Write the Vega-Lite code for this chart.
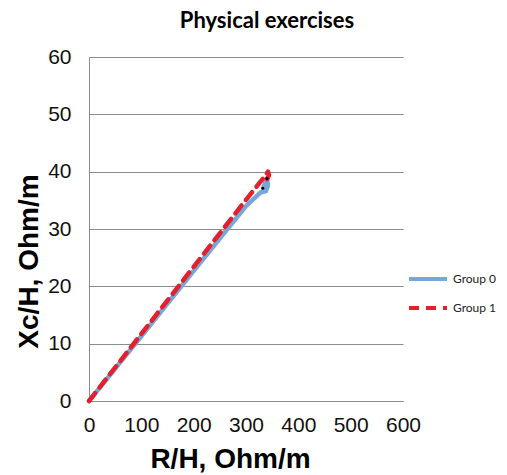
{
  "$schema": "https://vega.github.io/schema/vega-lite/v6.json",
  "autosize": "none",
  "padding": {"left": 89, "top": 57, "right": 104, "bottom": 74},
  "width": 314,
  "height": 344,
  "background": "white",
  "title": {"text": "Physical exercises", "font": "Lato", "fontSize": 22, "fontWeight": "bold", "color": "#000000", "dx": 21, "offset": 13},
  "config": {"view": {"stroke": null}},
  "datasets": {
    "lines": [
      {"group": "Group 0", "order": 1, "R": 0, "Xc": 0},
      {"group": "Group 0", "order": 2, "R": 100, "Xc": 11.3},
      {"group": "Group 0", "order": 3, "R": 200, "Xc": 22.7},
      {"group": "Group 0", "order": 4, "R": 300, "Xc": 34.0},
      {"group": "Group 0", "order": 5, "R": 328, "Xc": 36.4},
      {"group": "Group 0", "order": 6, "R": 338, "Xc": 36.6},
      {"group": "Group 0", "order": 7, "R": 342, "Xc": 37.6},
      {"group": "Group 0", "order": 8, "R": 340, "Xc": 38.8},
      {"group": "Group 0", "order": 9, "R": 333, "Xc": 37.2},
      {"group": "Group 1", "order": 1, "R": 0, "Xc": 0},
      {"group": "Group 1", "order": 2, "R": 100, "Xc": 11.7},
      {"group": "Group 1", "order": 3, "R": 200, "Xc": 23.4},
      {"group": "Group 1", "order": 4, "R": 300, "Xc": 35.1},
      {"group": "Group 1", "order": 5, "R": 336, "Xc": 39.2},
      {"group": "Group 1", "order": 6, "R": 342, "Xc": 40.0},
      {"group": "Group 1", "order": 7, "R": 344, "Xc": 39.4},
      {"group": "Group 1", "order": 8, "R": 340, "Xc": 38.6}
    ],
    "dots": [
      {"R": 340, "Xc": 38.8},
      {"R": 332, "Xc": 37.1}
    ]
  },
  "layer": [
    {
      "data": {"name": "lines"},
      "mark": {"type": "line", "strokeWidth": 4.5, "strokeCap": "round", "strokeJoin": "round"},
      "encoding": {
        "x": {
          "field": "R", "type": "quantitative",
          "scale": {"domain": [0, 600], "nice": false},
          "axis": {
            "values": [0, 100, 200, 300, 400, 500, 600],
            "title": "R/H, Ohm/m", "titleFont": "Liberation Sans", "titleFontSize": 28, "titleFontWeight": "bold", "titleColor": "#000000",
            "titleX": 141, "titleY": 44,
            "labelFont": "Liberation Sans", "labelFontSize": 21, "labelColor": "#111111", "labelPadding": 13,
            "labelOverlap": false, "labelFlush": false,
            "ticks": false, "grid": false, "domainColor": "#8c8c8c", "domainWidth": 1
          }
        },
        "y": {
          "field": "Xc", "type": "quantitative",
          "scale": {"domain": [0, 60], "nice": false},
          "axis": {
            "values": [0, 10, 20, 30, 40, 50, 60],
            "title": "Xc/H, Ohm/m", "titleFont": "Liberation Sans", "titleFontSize": 28, "titleFontWeight": "bold", "titleColor": "#000000",
            "titleX": -46, "titleY": 204,
            "labelFont": "Liberation Sans", "labelFontSize": 21, "labelColor": "#111111", "labelPadding": 18,
            "labelOverlap": false, "labelFlush": false,
            "ticks": false, "grid": true, "gridColor": "#8c8c8c", "gridWidth": 1, "domainColor": "#8c8c8c", "domainWidth": 1
          }
        },
        "order": {"field": "order", "type": "quantitative"},
        "color": {
          "field": "group", "type": "nominal",
          "scale": {"domain": ["Group 0", "Group 1"], "range": ["#77A6D8", "#E3202B"]},
          "legend": {
            "title": null, "orient": "none", "legendX": 318, "legendY": 201,
            "symbolType": "stroke", "symbolSize": 1444, "symbolStrokeWidth": 4,
            "labelFont": "Lato", "labelFontSize": 12, "labelColor": "#222222", "rowPadding": -9, "labelOffset": 4
          }
        },
        "strokeDash": {
          "field": "group", "type": "nominal",
          "scale": {"domain": ["Group 0", "Group 1"], "range": [[1, 0], [10, 7]]},
          "legend": {
            "title": null, "orient": "none", "legendX": 318, "legendY": 201,
            "symbolType": "stroke", "symbolSize": 1444, "symbolStrokeWidth": 4,
            "labelFont": "Lato", "labelFontSize": 12, "labelColor": "#222222", "rowPadding": -9, "labelOffset": 4
          }
        }
      }
    },
    {
      "data": {"name": "dots"},
      "mark": {"type": "point", "filled": true, "color": "#000000", "size": 10, "opacity": 1},
      "encoding": {
        "x": {"field": "R", "type": "quantitative"},
        "y": {"field": "Xc", "type": "quantitative"}
      }
    }
  ]
}
